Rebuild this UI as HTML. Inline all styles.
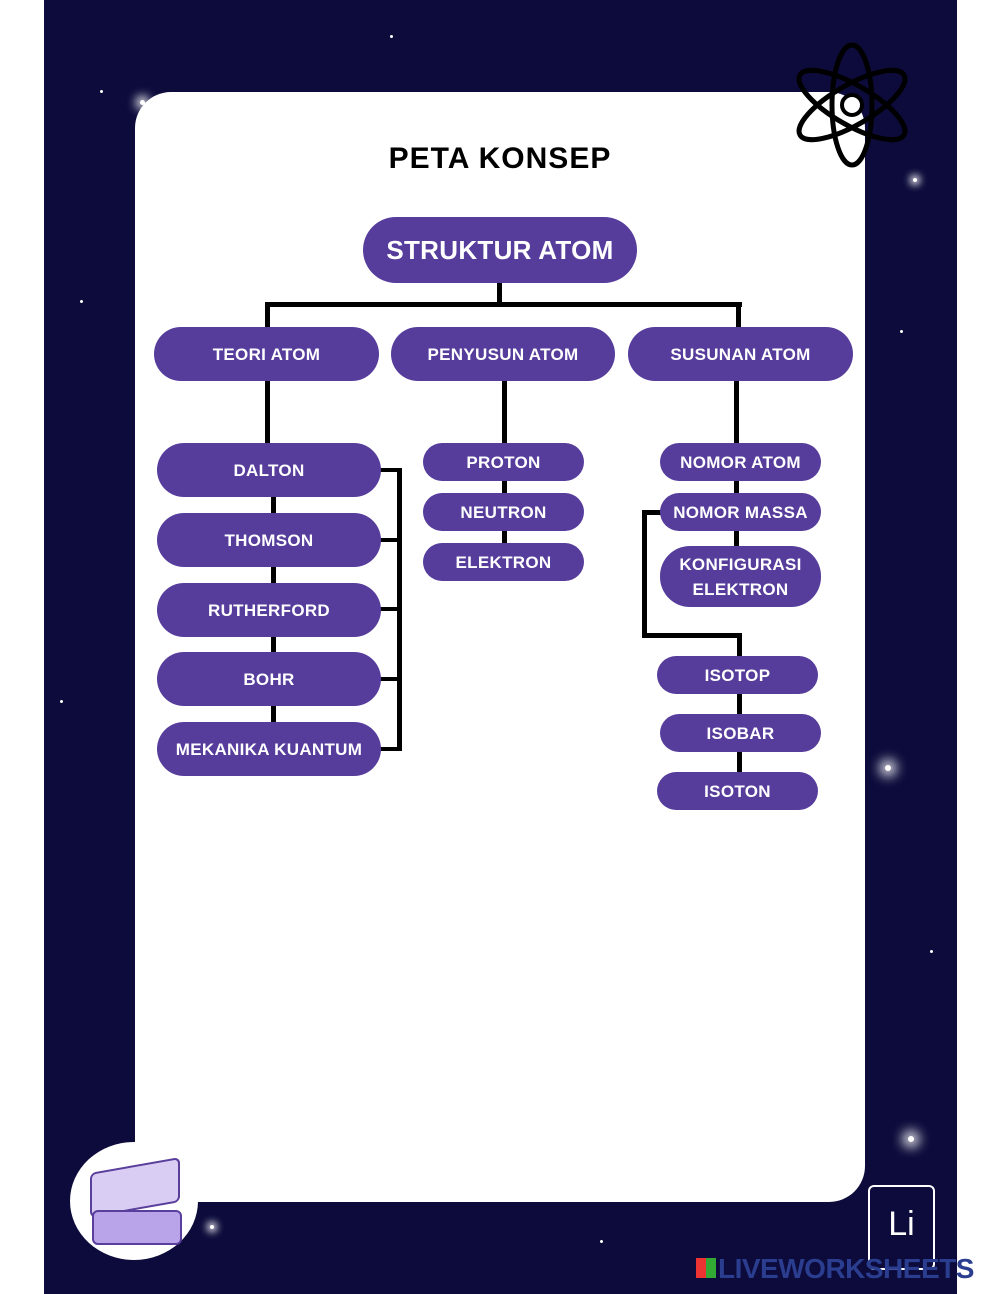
<!DOCTYPE html>
<html><head><meta charset="utf-8"><style>
*{margin:0;padding:0;box-sizing:border-box}
body{width:1000px;height:1294px;position:relative;background:#fff;font-family:"Liberation Sans",sans-serif;overflow:hidden}
#bg{position:absolute;left:44px;top:0;width:913px;height:1294px;background:#0c0b3b}
#card{position:absolute;left:135px;top:92px;width:730px;height:1110px;background:#fff;border-radius:36px}
.n{position:absolute;background:#563d9c;color:#fff;border-radius:30px;display:flex;align-items:center;justify-content:center;text-align:center;font-weight:bold;font-size:17px;line-height:25px;letter-spacing:0.3px}
.l{position:absolute;background:#000}
.s{position:absolute;background:#fff;border-radius:50%}
</style></head><body>
<div id="bg"></div>
<div class="s" style="left:140px;top:100px;width:5px;height:5px;box-shadow:0 0 10px 4px #fff"></div>
<div class="s" style="left:913px;top:178px;width:4px;height:4px;box-shadow:0 0 8px 3px #fff"></div>
<div class="s" style="left:885px;top:765px;width:6px;height:6px;box-shadow:0 0 12px 5px #fff"></div>
<div class="s" style="left:908px;top:1136px;width:6px;height:6px;box-shadow:0 0 12px 5px #fff"></div>
<div class="s" style="left:210px;top:1225px;width:4px;height:4px;box-shadow:0 0 8px 3px #fff"></div>
<div class="s" style="left:100px;top:90px;width:3px;height:3px"></div>
<div class="s" style="left:80px;top:300px;width:3px;height:3px"></div>
<div class="s" style="left:900px;top:330px;width:3px;height:3px"></div>
<div class="s" style="left:60px;top:700px;width:3px;height:3px"></div>
<div class="s" style="left:930px;top:950px;width:3px;height:3px"></div>
<div class="s" style="left:390px;top:35px;width:3px;height:3px"></div>
<div class="s" style="left:600px;top:1240px;width:3px;height:3px"></div>
<div id="card"></div>
<svg style="position:absolute;left:785px;top:38px" width="135" height="135" viewBox="0 0 135 135">
<g fill="none" stroke="#000" stroke-width="5"><ellipse cx="67" cy="67" rx="60" ry="20" transform="rotate(30 67 67)"/><ellipse cx="67" cy="67" rx="60" ry="20" transform="rotate(-30 67 67)"/><ellipse cx="67" cy="67" rx="60" ry="20" transform="rotate(90 67 67)"/></g>
<circle cx="67" cy="67" r="10" fill="#fff" stroke="#000" stroke-width="4"/></svg>
<div style="position:absolute;left:0;width:1000px;top:142px;text-align:center;font-weight:bold;font-size:30px;color:#000;letter-spacing:1px">PETA KONSEP</div>

<div class="l" style="left:497px;top:283px;width:5px;height:24px"></div>
<div class="l" style="left:265px;top:302px;width:477px;height:5px"></div>
<div class="l" style="left:265px;top:302px;width:5px;height:26px"></div>
<div class="l" style="left:736px;top:302px;width:5px;height:26px"></div>
<div class="l" style="left:265px;top:380px;width:5px;height:64px"></div>
<div class="l" style="left:271px;top:495px;width:5px;height:230px"></div>
<div class="l" style="left:397px;top:468px;width:5px;height:283px"></div>
<div class="l" style="left:378px;top:468px;width:22px;height:4px"></div>
<div class="l" style="left:378px;top:538px;width:22px;height:4px"></div>
<div class="l" style="left:378px;top:607px;width:22px;height:4px"></div>
<div class="l" style="left:378px;top:677px;width:22px;height:4px"></div>
<div class="l" style="left:378px;top:747px;width:22px;height:4px"></div>
<div class="l" style="left:502px;top:380px;width:5px;height:180px"></div>
<div class="l" style="left:734px;top:380px;width:5px;height:200px"></div>
<div class="l" style="left:642px;top:510px;width:20px;height:5px"></div>
<div class="l" style="left:642px;top:510px;width:5px;height:128px"></div>
<div class="l" style="left:642px;top:633px;width:100px;height:5px"></div>
<div class="l" style="left:737px;top:633px;width:5px;height:160px"></div>

<div class="n" style="left:363px;top:217px;width:274px;height:66px;border-radius:33px;font-size:26px">STRUKTUR ATOM</div>
<div class="n" style="left:154px;top:327px;width:225px;height:54px">TEORI ATOM</div>
<div class="n" style="left:391px;top:327px;width:224px;height:54px">PENYUSUN ATOM</div>
<div class="n" style="left:628px;top:327px;width:225px;height:54px">SUSUNAN ATOM</div>
<div class="n" style="left:157px;top:443px;width:224px;height:54px">DALTON</div>
<div class="n" style="left:157px;top:513px;width:224px;height:54px">THOMSON</div>
<div class="n" style="left:157px;top:583px;width:224px;height:54px">RUTHERFORD</div>
<div class="n" style="left:157px;top:652px;width:224px;height:54px">BOHR</div>
<div class="n" style="left:157px;top:722px;width:224px;height:54px">MEKANIKA KUANTUM</div>
<div class="n" style="left:423px;top:443px;width:161px;height:38px">PROTON</div>
<div class="n" style="left:423px;top:493px;width:161px;height:38px">NEUTRON</div>
<div class="n" style="left:423px;top:543px;width:161px;height:38px">ELEKTRON</div>
<div class="n" style="left:660px;top:443px;width:161px;height:38px">NOMOR ATOM</div>
<div class="n" style="left:660px;top:493px;width:161px;height:38px">NOMOR MASSA</div>
<div class="n" style="left:660px;top:546px;width:161px;height:61px">KONFIGURASI<br>ELEKTRON</div>
<div class="n" style="left:657px;top:656px;width:161px;height:38px">ISOTOP</div>
<div class="n" style="left:660px;top:714px;width:161px;height:38px">ISOBAR</div>
<div class="n" style="left:657px;top:772px;width:161px;height:38px">ISOTON</div>

<div style="position:absolute;left:70px;top:1142px;width:128px;height:118px;border-radius:50%;background:#fff"></div>
<div style="position:absolute;left:90px;top:1165px;width:90px;height:45px;background:#d9cdf3;border:2px solid #5a3e9c;border-radius:6px;transform:skewY(-10deg)"></div>
<div style="position:absolute;left:92px;top:1210px;width:90px;height:35px;background:#b9a4ea;border:2px solid #5a3e9c;border-radius:6px"></div>
<div style="position:absolute;left:868px;top:1185px;width:67px;height:85px;border:2px solid #fff;border-radius:6px;color:#fff;text-align:center;font-size:34px;padding-top:18px">Li</div>
<div style="position:absolute;left:718px;top:1253px;font-size:28px;font-weight:bold;color:#2a3d8f;letter-spacing:-0.5px">LIVEWORKSHEETS</div>
<div style="position:absolute;left:696px;top:1258px;width:20px;height:20px;background:linear-gradient(90deg,#e33 50%,#3a3 50%)"></div>
</body></html>
